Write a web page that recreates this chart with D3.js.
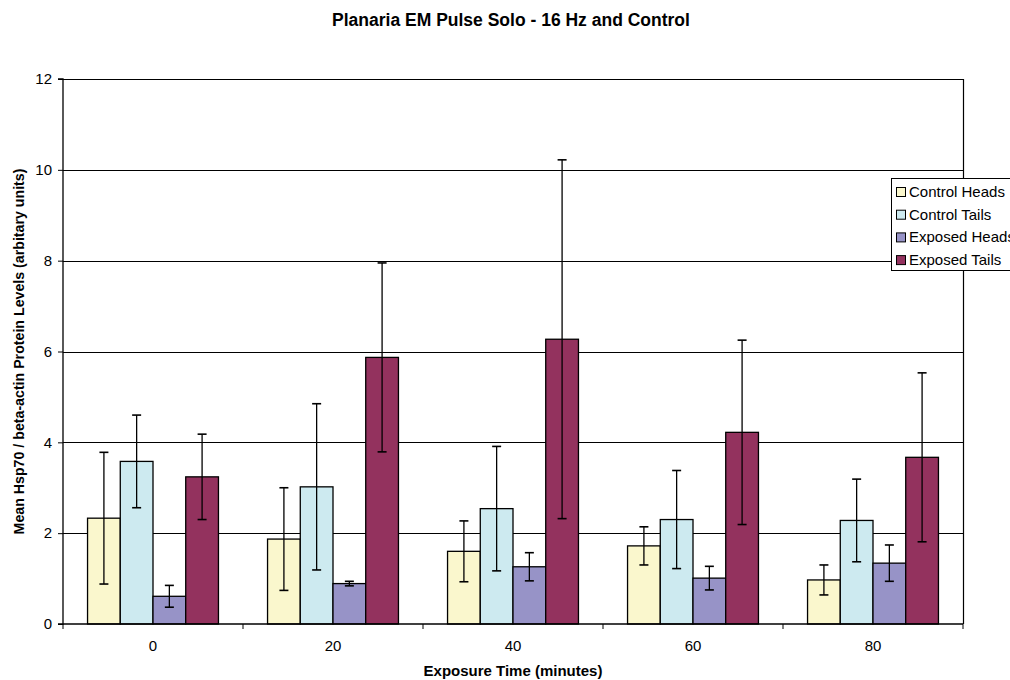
<!DOCTYPE html>
<html>
<head>
<meta charset="utf-8">
<script src="https://cdn.jsdelivr.net/npm/d3@7"></script>
<style>
  body { margin: 0; background: #fff; }
  svg { display: block; font-family: "Liberation Sans", Arial, sans-serif; }
</style>
</head>
<body>
<svg id="chart" width="1010" height="680"></svg>
<script>
const categories = ["0", "20", "40", "60", "80"];
const seriesNames = ["Control Heads", "Control Tails", "Exposed Heads", "Exposed Tails"];
const controlHeads  = [2.33, 1.87, 1.60, 1.72, 0.97];
const controlTails  = [3.58, 3.02, 2.54, 2.30, 2.28];
const exposedHeads  = [0.61, 0.89, 1.26, 1.01, 1.34];
const exposedTails  = [3.24, 5.87, 6.27, 4.22, 3.67];
const errControlHeads = [1.45, 1.13, 0.67, 0.42, 0.33];
const errControlTails = [1.02, 1.83, 1.37, 1.08, 0.91];
const errExposedHeads = [0.24, 0.05, 0.31, 0.26, 0.40];
const errExposedTails = [0.94, 2.08, 3.95, 2.03, 1.86];
const yTicks = [0, 2, 4, 6, 8, 10, 12];
const colors = ["#FAF7CD", "#CDEAF0", "#9793C7", "#93325E"];

(function () {
const values = [controlHeads, controlTails, exposedHeads, exposedTails];
const errors = [errControlHeads, errControlTails, errExposedHeads, errExposedTails];

const svg = d3.select("#chart");
const pL = 63, pR = 963, pT = 79, pB = 624;

const x0 = d3.scaleBand().domain(categories).range([pL, pR]).paddingInner(0).paddingOuter(0);
const y = d3.scaleLinear().domain([0, 12]).range([pB, pT]);

const bw = x0.bandwidth() / 5.5;
const offset = (x0.bandwidth() - 4 * bw) / 2;

// gridlines
svg.append("g").selectAll("line").data(yTicks.filter(t => t > 0 && t < 12)).join("line")
  .attr("x1", pL).attr("x2", pR)
  .attr("y1", d => Math.round(y(d)) + 0.5).attr("y2", d => Math.round(y(d)) + 0.5)
  .attr("stroke", "#000").attr("stroke-width", 1);

// plot border (top and right)
svg.append("path")
  .attr("d", `M${pL},${pT + 0.5}H${pR + 0.5}V${pB}`)
  .attr("fill", "none").attr("stroke", "#000").attr("stroke-width", 1.2);

// bars
const groups = svg.append("g").selectAll("g").data(categories).join("g")
  .attr("transform", d => `translate(${x0(d)},0)`);

seriesNames.forEach((s, si) => {
  groups.append("rect")
    .attr("x", () => offset + si * bw)
    .attr("width", bw)
    .attr("y", (d, ci) => y(values[si][ci]))
    .attr("height", (d, ci) => y(0) - y(values[si][ci]))
    .attr("fill", colors[si])
    .attr("stroke", "#000").attr("stroke-width", 1.3);
});

// error bars
seriesNames.forEach((s, si) => {
  groups.each(function(d, ci) {
    const g = d3.select(this);
    const cx = offset + si * bw + bw / 2;
    const v = values[si][ci], e = errors[si][ci];
    const yt = y(v + e), yb = y(v - e);
    g.append("line").attr("x1", cx).attr("x2", cx).attr("y1", yt).attr("y2", yb)
      .attr("stroke", "#000").attr("stroke-width", 1.3);
    [yt, yb].forEach(yy => {
      g.append("line").attr("x1", cx - 4.5).attr("x2", cx + 4.5).attr("y1", yy).attr("y2", yy)
        .attr("stroke", "#000").attr("stroke-width", 1.6);
    });
  });
});

// y axis
const yAxis = d3.axisLeft(y).tickValues(yTicks).tickSize(5).tickPadding(6).tickFormat(d3.format("d"));
const gy = svg.append("g").attr("transform", `translate(${pL},0)`).call(yAxis);
gy.select(".domain").attr("stroke", "#000").attr("stroke-width", 1.3).attr("d", `M-5,${pT}H0V${pB}H-5`);
gy.selectAll(".tick line").attr("stroke", "#000");
gy.selectAll("text").attr("font-size", 15).attr("fill", "#000").attr("font-family", "Liberation Sans, Arial, sans-serif");

// x axis
const xAxis = d3.axisBottom(x0).tickSize(0).tickPadding(16);
const gx = svg.append("g").attr("transform", `translate(0,${pB})`).call(xAxis);
gx.select(".domain").attr("stroke", "#000").attr("stroke-width", 1.5).attr("d", `M${pL},0H${pR}`);
gx.selectAll("text").attr("font-size", 15).attr("fill", "#000").attr("font-family", "Liberation Sans, Arial, sans-serif");
const boundaries = categories.map(c => x0(c)).concat([pR]);
gx.append("g").selectAll("line").data(boundaries).join("line")
  .attr("x1", d => d).attr("x2", d => d).attr("y1", 0).attr("y2", 5)
  .attr("stroke", "#000").attr("stroke-width", 1);

// titles
svg.append("text").attr("x", 511).attr("y", 26).attr("text-anchor", "middle")
  .attr("font-size", 17.5).attr("font-weight", "bold").text("Planaria EM Pulse Solo - 16 Hz and Control");
svg.append("text").attr("x", 513).attr("y", 676).attr("text-anchor", "middle")
  .attr("font-size", 15).attr("font-weight", "bold").text("Exposure Time (minutes)");
svg.append("text").attr("transform", `translate(24,${(pT + pB) / 2}) rotate(-90)`).attr("text-anchor", "middle")
  .attr("font-size", 14.2).attr("font-weight", "bold").text("Mean Hsp70 / beta-actin Protein Levels (arbitary units)");

// legend
const lg = svg.append("g").attr("transform", "translate(891,178)");
lg.append("rect").attr("x", 0.5).attr("y", 0.5).attr("width", 130).attr("height", 92)
  .attr("fill", "#fff").attr("stroke", "#000").attr("stroke-width", 1);
seriesNames.forEach((s, i) => {
  const yy = 14 + i * 22.7;
  lg.append("rect").attr("x", 5.5).attr("y", yy - 4.5).attr("width", 9).attr("height", 9)
    .attr("fill", colors[i]).attr("stroke", "#000").attr("stroke-width", 1);
  lg.append("text").attr("x", 18).attr("y", yy + 5).attr("font-size", 15).text(s);
});
})();
</script>
</body>
</html>
